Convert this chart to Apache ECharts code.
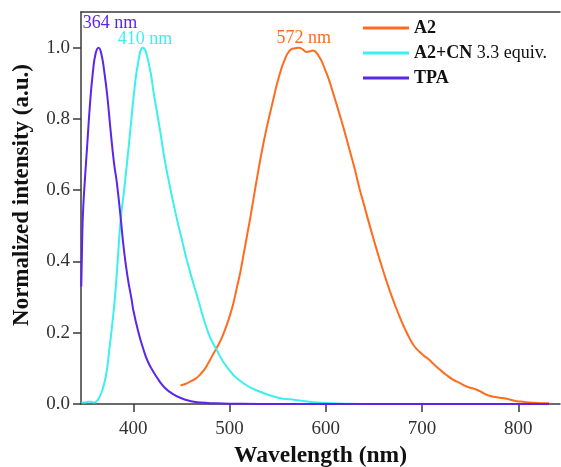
<!DOCTYPE html>
<html>
<head>
<meta charset="utf-8">
<script src="https://cdn.jsdelivr.net/npm/echarts@6/dist/echarts.min.js"></script>
<style>
  html, body { margin: 0; padding: 0; background: #ffffff; }
  #chart { width: 561px; height: 467px; }
</style>
</head>
<body>
<div id="chart"></div>
<script>
// Normalized emission spectra (wavelength in nm, intensity in a.u.)
const a2Wavelength = [449, 454, 459, 464, 469.3, 474, 478, 482, 486.6, 491, 495.3, 500, 504, 507.5, 511, 514.5, 518, 521.2, 524.7, 529.9, 534, 538.6, 542, 545.5, 549, 552.4, 555, 557.6, 560, 564, 568, 572, 576, 580, 584, 587, 590.5, 593, 595.7, 599, 602.6, 607, 611.3, 614.4, 618.2, 621.5, 625, 630, 635, 640, 646, 651, 656, 661, 666.7, 672, 677, 682, 687.5, 692, 697.9, 702, 706.5, 712, 718.7, 725, 732.5, 740, 746.4, 751, 756.8, 762, 767.2, 772, 777.6, 783, 788, 793, 798.3, 805, 812, 820, 829.5, 832];
const a2Intensity = [0.052, 0.056, 0.063, 0.07, 0.082, 0.097, 0.115, 0.135, 0.157, 0.18, 0.208, 0.245, 0.283, 0.325, 0.367, 0.418, 0.47, 0.517, 0.573, 0.655, 0.715, 0.775, 0.815, 0.855, 0.895, 0.928, 0.95, 0.968, 0.982, 0.995, 0.998, 1.0, 0.995, 0.988, 0.99, 0.992, 0.985, 0.975, 0.962, 0.94, 0.915, 0.878, 0.84, 0.812, 0.777, 0.745, 0.71, 0.66, 0.605, 0.556, 0.497, 0.45, 0.405, 0.362, 0.316, 0.277, 0.243, 0.212, 0.182, 0.162, 0.145, 0.135, 0.126, 0.112, 0.096, 0.082, 0.068, 0.058, 0.049, 0.045, 0.04, 0.033, 0.026, 0.022, 0.019, 0.017, 0.015, 0.011, 0.008, 0.006, 0.004, 0.003, 0.002, 0.002];

const a2cnWavelength = [346, 350, 353, 356, 359, 362, 365, 368, 372, 375, 378, 381, 384, 387, 390.5, 394, 397, 400.4, 405, 410, 416, 421.8, 427.7, 433, 440, 444.4, 449, 457, 467.5, 478, 486.6, 497, 514, 535, 552, 563, 573, 587, 600, 620, 650, 700, 760, 832];
const a2cnIntensity = [0.004, 0.004, 0.006, 0.006, 0.004, 0.008, 0.02, 0.04, 0.085, 0.15, 0.22, 0.3, 0.41, 0.52, 0.6, 0.69, 0.77, 0.863, 0.957, 1.0, 0.957, 0.863, 0.77, 0.68, 0.585, 0.53, 0.478, 0.39, 0.292, 0.199, 0.152, 0.105, 0.059, 0.031, 0.017, 0.013, 0.01, 0.005, 0.003, 0.001, 0, 0, 0, 0];

const tpaWavelength = [346, 347, 348, 350, 352, 355, 358, 361, 364, 367, 370, 373, 376, 380, 383, 387, 390, 394, 398.3, 400, 405, 410, 415, 421, 427, 433, 440, 450, 460, 470, 485, 500, 550, 600, 700, 800, 832];
const tpaIntensity = [0.33, 0.47, 0.55, 0.64, 0.72, 0.84, 0.93, 0.985, 1.0, 0.98, 0.93, 0.865, 0.78, 0.676, 0.62, 0.52, 0.44, 0.358, 0.293, 0.264, 0.205, 0.158, 0.12, 0.09, 0.065, 0.045, 0.03, 0.016, 0.008, 0.004, 0.002, 0.001, 0, 0, 0, 0, 0];

// Peak positions that get annotated
const a2Peak = 572;
const a2cnPeak = 410;
const tpaPeak = 364;

const xTicks = [400, 500, 600, 700, 800];
const yTicks = [0, 0.2, 0.4, 0.6, 0.8, 1.0];

const seriesNames = ['A2', 'A2+CN 3.3 equiv.', 'TPA'];
const colors = ['#ff6c1e', '#3cf0ee', '#5a26ec'];

const FONT = '"Liberation Serif", "Times New Roman", serif';
const AXIS_COLOR = '#3a3a3a';

function pairs(xs, ys) {
  return xs.map((x, i) => [x, ys[i]]);
}
function valueAt(xs, ys, x) {
  return ys[xs.indexOf(x)];
}

function peakMark(peak, xs, ys, color, offset) {
  return {
    symbol: 'circle',
    symbolSize: 1,
    itemStyle: { color: 'rgba(0,0,0,0)' },
    label: {
      show: true,
      position: 'inside',
      offset: offset,
      formatter: peak + ' nm',
      color: color,
      fontFamily: FONT,
      fontSize: 18
    },
    data: [{ coord: [peak, valueAt(xs, ys, peak)] }]
  };
}

function lineSeries(name, xs, ys, color, mark) {
  return {
    name: name,
    type: 'line',
    data: pairs(xs, ys),
    showSymbol: false,
    symbol: 'none',
    smooth: 0.5,
    color: color,
    lineStyle: { color: color, width: 2 },
    markPoint: mark,
    animation: false
  };
}

const chart = echarts.init(document.getElementById('chart'), null, { renderer: 'canvas' });

chart.setOption({
  backgroundColor: '#ffffff',
  animation: false,
  grid: { left: 81, right: 1, top: 12, bottom: 63, containLabel: false, outerBoundsMode: 'none' },
  legend: {
    orient: 'vertical',
    left: 358,
    top: 14,
    icon: 'rect',
    itemWidth: 46,
    itemHeight: 3,
    itemGap: 7,
    data: seriesNames,
    formatter: function (name) {
      if (name === 'A2+CN 3.3 equiv.') return '{b|A2+CN} {n|3.3 equiv.}';
      return '{b|' + name + '}';
    },
    textStyle: {
      fontFamily: FONT,
      fontSize: 18,
      color: '#111',
      rich: {
        b: { fontFamily: FONT, fontSize: 18, fontWeight: 'bold', color: '#111' },
        n: { fontFamily: FONT, fontSize: 18, color: '#111' }
      }
    }
  },
  xAxis: [
    {
      type: 'value',
      min: 345.7,
      max: 843.3,
      position: 'bottom',
      name: 'Wavelength (nm)',
      nameLocation: 'middle',
      nameGap: 34,
      nameTextStyle: { fontFamily: FONT, fontSize: 23.5, fontWeight: 'bold', color: '#111' },
      axisLine: { show: true, onZero: false, lineStyle: { color: AXIS_COLOR, width: 1.5 } },
      axisTick: { show: true, inside: false, length: 8, customValues: xTicks, lineStyle: { color: AXIS_COLOR, width: 1.5 } },
      axisLabel: { show: true, margin: 16, customValues: xTicks, fontFamily: FONT, fontSize: 19, color: '#333' },
      splitLine: { show: false }
    },
    {
      type: 'value',
      min: 345.7,
      max: 843.3,
      position: 'top',
      axisLine: { show: true, onZero: false, lineStyle: { color: AXIS_COLOR, width: 1.5 } },
      axisTick: { show: false },
      axisLabel: { show: false },
      splitLine: { show: false }
    }
  ],
  yAxis: {
    type: 'value',
    min: 0,
    max: 1.1,
    axisLine: { show: true, onZero: false, lineStyle: { color: AXIS_COLOR, width: 1.5 } },
    axisTick: { show: true, inside: false, length: 8, customValues: yTicks, lineStyle: { color: AXIS_COLOR, width: 1.5 } },
    axisLabel: {
      show: true,
      margin: 11,
      customValues: yTicks,
      formatter: v => v.toFixed(1),
      fontFamily: FONT,
      fontSize: 19,
      color: '#333'
    },
    splitLine: { show: false }
  },
  graphic: [
    {
      type: 'text',
      x: 22,
      y: 195,
      rotation: Math.PI / 2,
      style: {
        text: 'Normalized intensity (a.u.)',
        fontFamily: FONT,
        fontSize: 23,
        fontWeight: 'bold',
        fill: '#111',
        align: 'center',
        verticalAlign: 'middle'
      }
    }
  ],
  series: [
    lineSeries(seriesNames[0], a2Wavelength, a2Intensity, colors[0],
      peakMark(a2Peak, a2Wavelength, a2Intensity, colors[0], [5, -9])),
    lineSeries(seriesNames[1], a2cnWavelength, a2cnIntensity, colors[1],
      peakMark(a2cnPeak, a2cnWavelength, a2cnIntensity, colors[1], [2, -8])),
    lineSeries(seriesNames[2], tpaWavelength, tpaIntensity, colors[2],
      peakMark(tpaPeak, tpaWavelength, tpaIntensity, colors[2], [11.5, -24]))
  ]
});
</script>
</body>
</html>
